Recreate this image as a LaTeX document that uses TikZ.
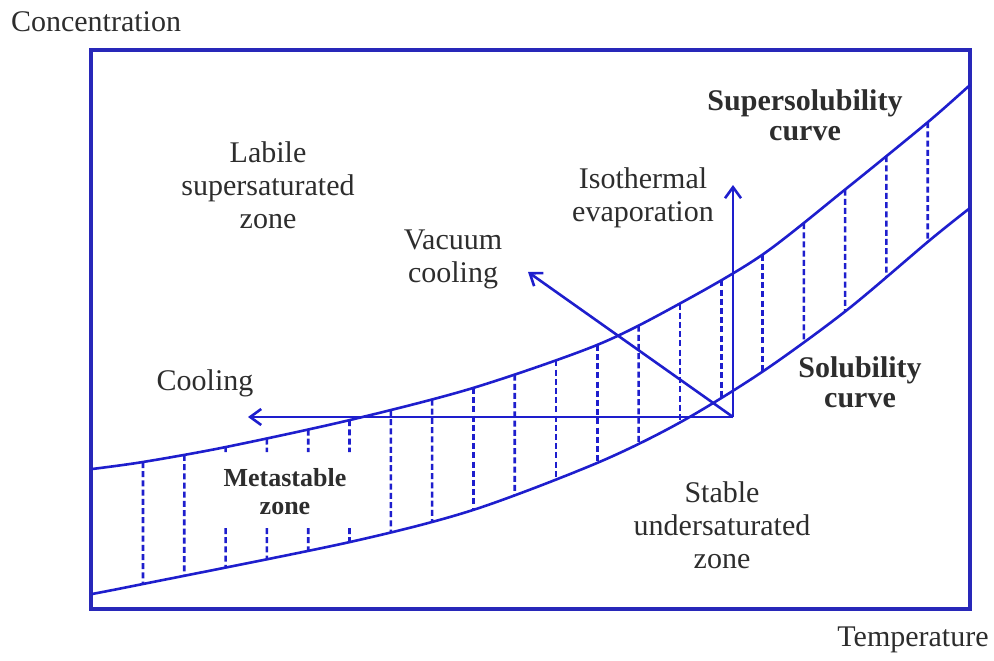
\documentclass[tikz,border=0pt]{standalone}
\usepackage{fontspec}
\setmainfont{Liberation Serif}
\usetikzlibrary{arrows.meta,intersections}
\definecolor{lineblue}{RGB}{30,30,205}
\definecolor{frameblue}{RGB}{40,40,185}
\definecolor{textgray}{RGB}{45,45,45}

\begin{document}
\begin{tikzpicture}[
    x=0.5pt, y=0.5pt,
    font=\fontsize{15}{16.5}\selectfont,
    >={Straight Barb[length=5.5pt,width=8pt]},
    txt/.style={text=textgray, align=center, inner sep=0pt},
    bold/.style={txt, font=\fontsize{15}{15}\selectfont\bfseries},
    curve/.style={draw=lineblue, line width=1.3pt},
    flow/.style={->, draw=lineblue, line width=1.3pt},
    tie/.style={draw=lineblue, line width=1.3pt, dash pattern=on 3pt off 1.6pt}
  ]
    \useasboundingbox (0,0) rectangle (994,660);
    % frame and axis names
    \draw[frameblue, line width=1.6pt] (91,51) rectangle (970,610);
    \node[txt] (conc) at (96,638) {Concentration};
    \node[txt] (temp) at (913,20) {Temperature};
    % supersolubility and solubility curves
    \draw[curve, name path=upper] plot[smooth] coordinates {(92,191) (143,198) (226,213) (350,240) (473,272) (597,315) (679,356) (762,405) (847,472) (928,538) (970,575)};
    \draw[curve, name path=lower] plot[smooth] coordinates {(92,66) (143,76) (350,118) (473,150) (597,197) (679,237) (762,288) (847,350) (930,420) (970,452)};
    % dashed ties between the curves
    \foreach \i in {0,1,6,7,...,19} {
      \pgfmathsetmacro{\xx}{143+41.3*\i}
      \path[name path=vline] (\xx,0) -- (\xx,660);
      \path[name intersections={of=upper and vline, by=top}];
      \path[name intersections={of=lower and vline, by=bot}];
      \draw[tie] (top) -- (bot);
    }
    \foreach \i in {2,...,5} {
      \pgfmathsetmacro{\xx}{143+41.3*\i}
      \path[name path=vline] (\xx,0) -- (\xx,660);
      \path[name intersections={of=upper and vline, by=top}];
      \path[name intersections={of=lower and vline, by=bot}];
      \draw[tie] (top) -- (\xx,208);
      \draw[tie] (\xx,132) -- (bot);
    }
    % crystallisation paths
    \coordinate (origin) at (733,243);
    \coordinate (coolend) at (248,243);
    \coordinate (evapend) at (733,475);
    \coordinate (vacend) at (528,388);
    \draw[flow] (origin) -- (coolend);
    \draw[flow] (origin) -- (evapend);
    \draw[flow] (origin) -- (vacend);
    % labels
    \node[txt] (labile) at (268,475) {Labile\\supersaturated\\zone};
    \node[bold] (super) at (805,545) {Supersolubility\\curve};
    \node[txt] (evap) at (643,462) {Isothermal\\evaporation};
    \node[txt] (vac) at (453,401) {Vacuum\\cooling};
    \node[txt] (cool) at (205,277) {Cooling};
    \node[bold] (sol) at (860,278) {Solubility\\curve};
    \node[bold, font=\fontsize{13}{14}\selectfont\bfseries] (meta) at (285,168) {Metastable\\zone};
    \node[txt] (stable) at (722,135) {Stable\\undersaturated\\zone};
\end{tikzpicture}
\end{document}
